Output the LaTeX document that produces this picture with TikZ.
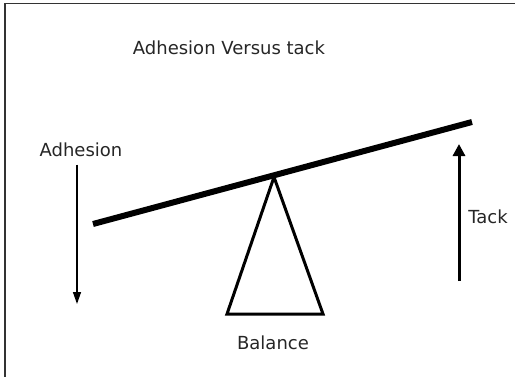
\documentclass[tikz,border=0pt]{standalone}
\usepackage{fontspec}
\setmainfont{DejaVu Sans}
\usetikzlibrary{arrows.meta}

\begin{document}
\begin{tikzpicture}[x=1pt,y=-1pt]
      \tikzset{label text/.style={font=\fontsize{18}{20}\selectfont,text=black!85},
               force/.style={-{Triangle[length=12pt,width=8pt]}}}
      \useasboundingbox (0,0) rectangle (515,376);
      \clip (0,0) rectangle (515,376);
      \draw[line width=1.2pt,black!80] (5,3.5) rectangle (530,390);
      \node[label text] (title) at (229,48) {Adhesion Versus tack};
      \coordinate (lo) at (93,224);
      \coordinate (hi) at (472,122);
      \coordinate (apex) at (274,177);
      \draw[line width=3pt,line join=miter] (apex) -- (227,314) -- (323,314) -- cycle;
      \draw[line width=6pt] (lo) -- (hi);
      \node[label text] (adh) at (81,150) {Adhesion};
      \coordinate (adhend) at (77,304);
      \draw[force,line width=1.4pt] (adh.south -| adhend) ++(0,4) -- (adhend);
      \node[label text] (tack) at (488,217) {Tack};
      \coordinate (tackfoot) at (459,281);
      \coordinate (tacktop) at (459,144);
      \draw[force,line width=3pt,-{Triangle[length=12pt,width=12pt]}] (tackfoot) -- (tacktop);
      \node[label text] (bal) at (273,343) {Balance};
    \end{tikzpicture}
\end{document}
